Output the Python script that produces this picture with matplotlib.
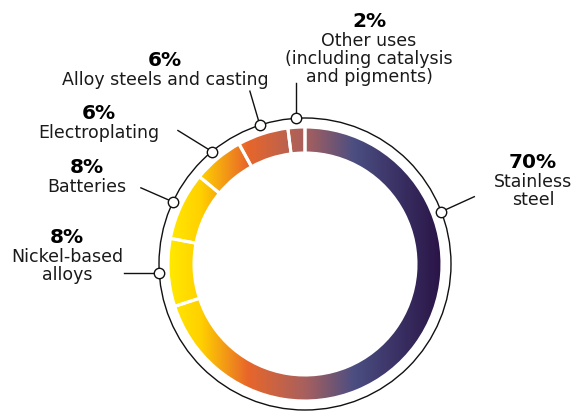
import numpy as np
import matplotlib
matplotlib.use("Agg")
import matplotlib.pyplot as plt
from matplotlib.colors import LinearSegmentedColormap
from matplotlib.patches import Circle

# Nickel end uses, share of total (%)
categories = ["Stainless\nsteel", "Nickel-based\nalloys", "Batteries",
              "Electroplating", "Alloy steels and casting",
              "Other uses\n(including catalysis\nand pigments)"]
shares = [70, 8, 8, 6, 6, 2]
pct_labels = ["70%", "8%", "8%", "6%", "6%", "2%"]

W, H = 574, 412
fig = plt.figure(figsize=(W / 100, H / 100), dpi=100)
ax = fig.add_axes([0, 0, 1, 1])

cx, cy = 305, 148
r_out, ring_w = 137, 26
r_guide = 146

wedges, _ = ax.pie(shares, startangle=90, counterclock=False, radius=r_out,
                   center=(cx, cy), frame=True,
                   wedgeprops=dict(width=ring_w, edgecolor="white",
                                   linewidth=2.2, facecolor="none"))

# horizontal colour ramp across the ring
ramp = LinearSegmentedColormap.from_list(
    "ramp",
    [(0.00, "#FFEA00"), (0.12, "#FFD000"), (0.29, "#E8662A"),
     (0.50, "#A8605E"), (0.68, "#4B4E82"), (1.00, "#2A1446")])
grad = ramp(np.linspace(0, 1, 512))[None, :, :]
for w in wedges:
    im = ax.imshow(grad, extent=(cx - r_out, cx + r_out, cy - r_out, cy + r_out),
                   aspect="auto", interpolation="bilinear", zorder=1)
    im.set_clip_path(w)
    w.set_zorder(2)

# thin guide circle around the ring
ax.add_patch(Circle((cx, cy), r_guide, fill=False, ec="#111111", lw=1.0, zorder=3))

# leader markers: angle (deg, clockwise from top) and line end offset (dx, dy)
marker_angle = [69, None, None, None, None, None]
leader_vec = [(33, 15), (-35, 0), (-32, 14), (-34, 21), (-10, 34), (0, 35)]
cum = np.cumsum([0] + shares)
for i in range(len(shares)):
    mid = (cum[i] + cum[i + 1]) / 2 / 100 * 360
    ang = np.deg2rad(marker_angle[i] if marker_angle[i] is not None else mid)
    mx = cx + r_guide * np.sin(ang)
    my = cy + r_guide * np.cos(ang)
    dx, dy = leader_vec[i]
    ax.plot([mx, mx + dx], [my, my + dy], color="#111111", lw=1.0, zorder=3)
    ax.plot(mx, my, "o", ms=7.5, mfc="white", mec="#111111", mew=1.0, zorder=4)

# label blocks: percent centre (x, y) in axes coordinates
label_pos = [(533, 250), (67, 175), (87, 245), (99, 299), (165, 352), (369, 391)]
txt_col = "#1a1a1a"
for pct, cat, (lx, ly) in zip(pct_labels, categories, label_pos):
    ax.text(lx, ly, pct, ha="center", va="center", fontsize=14.5,
            fontweight="heavy", color="black", family="DejaVu Sans")
    ax.text(lx, ly - 11, cat, ha="center", va="top", fontsize=12.5,
            color=txt_col, family="DejaVu Sans", linespacing=1.0)

ax.set_xlim(0, W)
ax.set_ylim(0, H)
ax.set_aspect("equal")
ax.axis("off")
fig.savefig("out.png", dpi=100)
